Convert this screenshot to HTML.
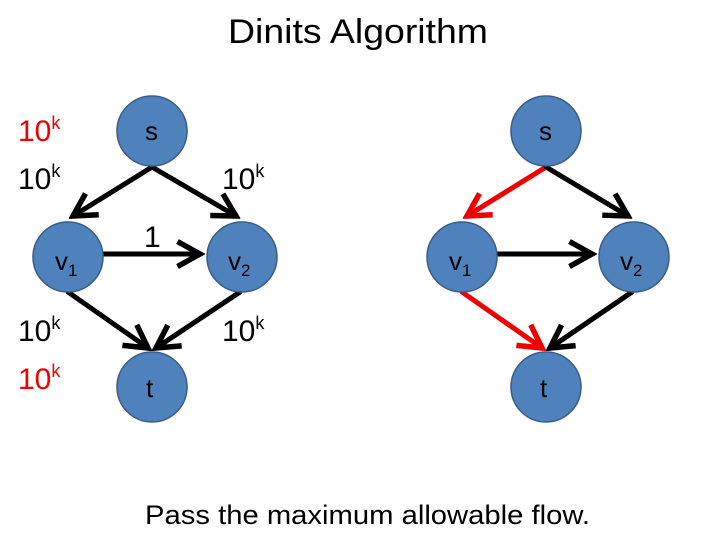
<!DOCTYPE html>
<html><head><style>body{margin:0;background:#fff}svg{display:block}text{font-family:"Liberation Sans",sans-serif}</style></head><body>
<svg width="720" height="540" viewBox="0 0 720 540">
<defs>
<marker id="ab" markerWidth="6" markerHeight="6" refX="5" refY="3" orient="auto" markerUnits="strokeWidth"><path d="M0.5,0.5 L5,3 L0.5,5.5" fill="none" stroke="#000" stroke-width="1.1"/></marker>
<marker id="ar" markerWidth="6" markerHeight="6" refX="5" refY="3" orient="auto" markerUnits="strokeWidth"><path d="M0.5,0.5 L5,3 L0.5,5.5" fill="none" stroke="#e00" stroke-width="1.1"/></marker>
</defs>
<text x="228" y="43" font-size="34" textLength="260" lengthAdjust="spacingAndGlyphs" fill="#000">Dinits Algorithm</text>
<g stroke-width="5" fill="none" stroke-linecap="round">
<line x1="152" y1="167" x2="73" y2="216" stroke="#000" marker-end="url(#ab)"/>
<line x1="152" y1="167" x2="236" y2="216" stroke="#000" marker-end="url(#ab)"/>
<line x1="104" y1="254" x2="200" y2="254" stroke="#000" marker-end="url(#ab)"/>
<line x1="68" y1="292" x2="148" y2="348" stroke="#000" marker-end="url(#ab)"/>
<line x1="240" y1="292" x2="156" y2="348" stroke="#000" marker-end="url(#ab)"/>
<line x1="546" y1="167" x2="467" y2="216" stroke="#e00" marker-end="url(#ar)"/>
<line x1="546" y1="167" x2="628" y2="216" stroke="#000" marker-end="url(#ab)"/>
<line x1="498" y1="254" x2="592" y2="254" stroke="#000" marker-end="url(#ab)"/>
<line x1="462" y1="292" x2="542" y2="348" stroke="#e00" marker-end="url(#ar)"/>
<line x1="632" y1="292" x2="550" y2="348" stroke="#000" marker-end="url(#ab)"/>
</g>
<g fill="#4f81bd" stroke="#385d8a" stroke-width="1.5">
<circle cx="152" cy="131" r="35"/><circle cx="68" cy="257" r="35"/><circle cx="242" cy="257" r="35"/><circle cx="152" cy="387" r="35"/>
<circle cx="546" cy="131" r="35"/><circle cx="462" cy="257" r="35"/><circle cx="634" cy="257" r="35"/><circle cx="546" cy="387" r="35"/>
</g>
<g font-size="26" fill="#000">
<text x="145" y="140">s</text><text x="539" y="140">s</text>
<text x="55" y="270">v<tspan font-size="17" dy="6">1</tspan></text>
<text x="228" y="270">v<tspan font-size="17" dy="6">2</tspan></text>
<text x="449" y="270">v<tspan font-size="17" dy="6">1</tspan></text>
<text x="620" y="270">v<tspan font-size="17" dy="6">2</tspan></text>
<text x="146" y="397">t</text><text x="540" y="397">t</text>
</g>
<g font-size="30">
<text x="18" y="141" fill="#e00">10<tspan font-size="18" dy="-12">k</tspan></text>
<text x="18" y="189" fill="#000">10<tspan font-size="18" dy="-12">k</tspan></text>
<text x="18" y="341" fill="#000">10<tspan font-size="18" dy="-12">k</tspan></text>
<text x="18" y="389" fill="#e00">10<tspan font-size="18" dy="-12">k</tspan></text>
<text x="222" y="189" fill="#000">10<tspan font-size="18" dy="-12">k</tspan></text>
<text x="222" y="341" fill="#000">10<tspan font-size="18" dy="-12">k</tspan></text>
<text x="144" y="247" fill="#000">1</text>
</g>
<text x="145" y="524" font-size="27" textLength="445" lengthAdjust="spacingAndGlyphs" fill="#000">Pass the maximum allowable flow.</text>
</svg>
</body></html>
